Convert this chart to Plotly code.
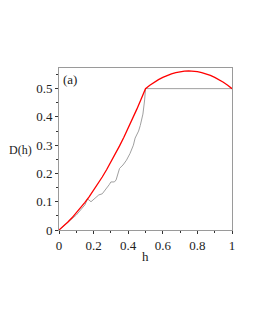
import plotly.graph_objects as go

# Red curve samples
red_h = [0, 0.025, 0.05, 0.075, 0.1, 0.125, 0.15, 0.175, 0.2, 0.225, 0.25, 0.275, 0.3, 0.325, 0.35, 0.375, 0.4, 0.425, 0.45, 0.475, 0.5,
         0.525, 0.55, 0.575, 0.6, 0.625, 0.65, 0.675, 0.7, 0.725, 0.75, 0.775, 0.8, 0.825, 0.85, 0.875, 0.9, 0.925, 0.95, 0.975, 1.0]
red_d = [0, 0.0131, 0.0275, 0.0431, 0.06, 0.0781, 0.0975, 0.1181, 0.14, 0.1631, 0.1875, 0.2131, 0.24, 0.2681, 0.2975, 0.3281, 0.36, 0.3931, 0.4275, 0.4631, 0.5,
         0.5119, 0.5225, 0.5319, 0.54, 0.5469, 0.5525, 0.5569, 0.56, 0.5619, 0.5625, 0.5619, 0.56, 0.5569, 0.5525, 0.5469, 0.54, 0.5319, 0.5225, 0.5119, 0.5]

# Gray (jagged) curve samples
gray_h = [0, 0.05, 0.1, 0.15, 0.165, 0.185, 0.21, 0.23, 0.25, 0.27, 0.29, 0.30, 0.32, 0.33, 0.35, 0.37, 0.39, 0.41, 0.43, 0.44,
          0.46, 0.47, 0.485, 0.495, 0.5, 1.0]
gray_d = [0, 0.025, 0.053, 0.089, 0.11, 0.10, 0.112, 0.124, 0.128, 0.142, 0.16, 0.17, 0.17, 0.177, 0.218, 0.23, 0.247, 0.27, 0.30, 0.325,
          0.35, 0.37, 0.41, 0.46, 0.5, 0.5]

x_ticks = [0, 0.2, 0.4, 0.6, 0.8, 1]
x_labels = ["0", "0.2", "0.4", "0.6", "0.8", "1"]
y_ticks = [0, 0.1, 0.2, 0.3, 0.4, 0.5]
y_labels = ["0", "0.1", "0.2", "0.3", "0.4", "0.5"]

font = dict(family="Liberation Serif", size=13, color="#222")

fig = go.Figure()
fig.add_trace(go.Scatter(x=gray_h, y=gray_d, mode="lines", line=dict(color="#a0a0a0", width=1)))
fig.add_trace(go.Scatter(x=red_h, y=red_d, mode="lines", line=dict(color="#ff0000", width=1.3)))

axis_common = dict(showline=True, mirror=True, linecolor="#9a9a9a", linewidth=1,
                   showgrid=False, zeroline=False, ticks="outside", ticklen=3,
                   tickcolor="#333", tickfont=font)
fig.update_xaxes(range=[0, 1], tickvals=x_ticks, ticktext=x_labels,
                 minor=dict(dtick=0.1, ticks="outside", ticklen=2, tickcolor="#333"),
                 **axis_common)
fig.update_yaxes(range=[0, 0.573], tickvals=y_ticks, ticktext=y_labels,
                 minor=dict(dtick=0.05, ticks="outside", ticklen=2, tickcolor="#333"),
                 **axis_common)

fig.add_annotation(x=0, y=1, xref="paper", yref="paper", text="(a)", showarrow=False,
                   xanchor="left", yanchor="top", xshift=2, yshift=-2, font=font)
fig.add_annotation(x=0, y=0.3, xref="paper", yref="y", text="D(h)", showarrow=False,
                   xanchor="right", yanchor="middle", xshift=-25, yshift=-5, font=dict(family="Liberation Serif", size=12, color="#222"))
fig.add_annotation(x=0.5, y=0, xref="x", yref="paper", text="h", showarrow=False,
                   xanchor="center", yanchor="top", yshift=-17, font=font)

fig.update_layout(width=253, height=327, margin=dict(l=51, r=29, t=60, b=105),
                  plot_bgcolor="white", paper_bgcolor="white", showlegend=False, font=font)
fig.write_html("out.html")
